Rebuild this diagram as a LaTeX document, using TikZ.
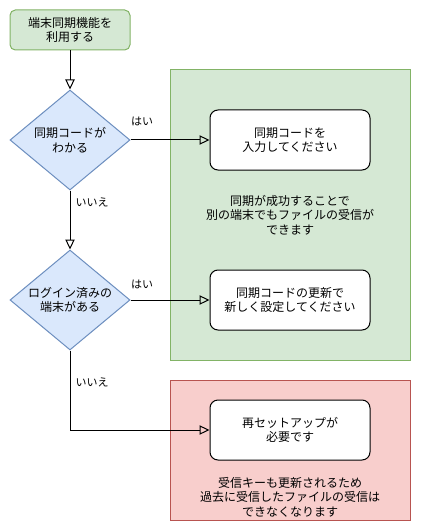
\documentclass[tikz,border=0pt]{standalone}
\usepackage{fontspec}
\setmainfont{Noto Sans CJK JP}
\usetikzlibrary{arrows.meta,shapes.geometric}

\definecolor{startfill}{HTML}{D5E8D4}
\definecolor{startline}{HTML}{82B366}
\definecolor{askfill}{HTML}{DAE8FC}
\definecolor{askline}{HTML}{6C8EBF}
\definecolor{badfill}{HTML}{F8CECC}
\definecolor{badline}{HTML}{B85450}

\tikzset{
  base/.style={font=\fontsize{9pt}{11pt}\selectfont, align=center, line width=0.75pt},
  startbox/.style={base, draw=startline, fill=startfill, rounded corners=4pt,
    minimum width=90pt, minimum height=30pt, inner sep=0pt},
  question/.style={base, diamond, draw=askline, fill=askfill, aspect=1.2,
    minimum width=90pt, minimum height=75pt, inner sep=0pt},
  actionbox/.style={base, draw=black, fill=white, rounded corners=6pt,
    minimum width=120pt, minimum height=45pt, inner sep=0pt},
  okarea/.style={base, draw=startline, fill=startfill,
    minimum width=180pt, minimum height=217.5pt, inner sep=0pt},
  ngarea/.style={base, draw=badline, fill=badfill,
    minimum width=180pt, minimum height=105pt, inner sep=0pt},
  note/.style={base, inner sep=0pt},
  lbl/.style={font=\fontsize{8.25pt}{10pt}\selectfont, inner sep=0pt},
  flow/.style={line width=0.75pt, -{Triangle[open, length=7.5pt, width=7pt]}}
}

\begin{document}
\begin{tikzpicture}[x=0.75pt, y=-0.75pt]
  \useasboundingbox (0,0) rectangle (421,531);

  % result areas
  \node[okarea] (okzone) at (290,215) {};
  \node[ngarea] (ngzone) at (290,450) {};
  \node[note] (oknote) at (290,215) {同期が成功することで\\別の端末でもファイルの受信が\\できます};
  \node[note] (ngnote) at (290,497) {受信キーも更新されるため\\過去に受信したファイルの受信は\\できなくなります};

  % flow
  \node[startbox] (start) at (70,30) {端末同期機能を\\利用する};
  \node[question] (knowcode) at (70,140) {同期コードが\\わかる};
  \node[question] (logged) at (70,300) {ログイン済みの\\端末がある};
  \node[actionbox] (entercode) at (290,140) {同期コードを\\入力してください};
  \node[actionbox] (renewcode) at (290,300) {同期コードの更新で\\新しく設定してください};
  \node[actionbox] (setup) at (290,430) {再セットアップが\\必要です};

  \draw[flow] (start) -- (knowcode);
  \draw[flow] (knowcode.east) -- node[lbl, pos=0, anchor=west, yshift=14pt] {はい} (entercode.west);
  \draw[flow] (knowcode.south) -- node[lbl, pos=0, anchor=west, xshift=3.75pt, yshift=-9pt] {いいえ} (logged.north);
  \draw[flow] (logged.east) -- node[lbl, pos=0, anchor=west, yshift=12pt] {はい} (renewcode.west);
  \draw[flow] (logged.south) |- node[lbl, pos=0, anchor=west, xshift=3.75pt, yshift=-24pt] {いいえ} (setup.west);
\end{tikzpicture}
\end{document}
